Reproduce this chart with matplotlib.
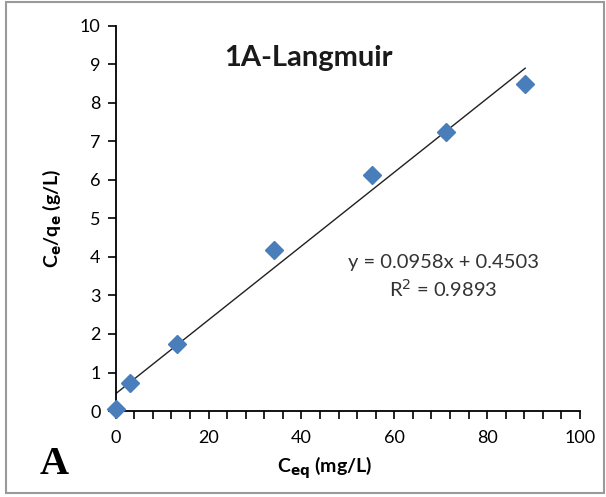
import matplotlib.pyplot as plt
from matplotlib.patches import Rectangle

# Langmuir linearisation data
c_eq = [0.0, 3.0, 13.2, 34.0, 55.1, 71.2, 88.2]
ce_qe = [0.04, 0.72, 1.75, 4.18, 6.12, 7.25, 8.48]

# fitted trendline
slope = 0.0958
intercept = 0.4503
r2 = 0.9893

x_ticks = list(range(0, 101, 20))
y_ticks = list(range(0, 11, 1))

plt.rcParams['font.family'] = ['Lato', 'DejaVu Sans']

fig1, ax1 = plt.subplots(figsize=(6.06, 4.97), dpi=100)
fig1.subplots_adjust(left=0.191, right=0.957, bottom=0.173, top=0.948)

for it1 in ['top', 'right']:
    ax1.spines[it1].set_visible(False)
for it1 in ['bottom', 'left']:
    ax1.spines[it1].set_linewidth(1.3)
    ax1.spines[it1].set_color('black')

ax1.axis([0, 100, 0, 10])
ax1.set_xticks(x_ticks)
ax1.set_xticks(list(range(0, 101, 4)), minor=True)
ax1.set_yticks(y_ticks)
ax1.tick_params(which='both', direction='out', length=6, width=1.2, labelsize=13, color='black')
ax1.tick_params(axis='x', pad=8)
ax1.tick_params(axis='y', pad=5)

# trendline drawn over the data range
x_fit = [min(c_eq), max(c_eq)]
y_fit = [slope * it1 + intercept for it1 in x_fit]
ax1.plot(x_fit, y_fit, color='#202020', lw=1.0, zorder=2)
ax1.plot(c_eq, ce_qe, 'D', color='#4A7EBB', ms=9.5, mec='#4A7EBB', zorder=3, clip_on=False)

ax1.set_title('1A-Langmuir', fontsize=21, fontweight='bold', x=0.415, y=0.875, color='#1a1a1a')
ax1.text(0.705, 0.385, 'y = %.4fx + %.4f' % (slope, intercept), transform=ax1.transAxes,
         ha='center', va='center', fontsize=14.5, color='#333333')
ax1.text(0.705, 0.318, 'R$^2$ = %.4f' % r2, transform=ax1.transAxes,
         ha='center', va='center', fontsize=14.5, color='#333333')

ax1.set_xlabel('C$_{\\mathbf{eq}}$ (mg/L)', fontsize=14, fontweight='bold', labelpad=6, x=0.45)
ax1.set_ylabel('C$_{\\mathbf{e}}$/q$_{\\mathbf{e}}$ (g/L)', fontsize=14, fontweight='bold', labelpad=12)

fig1.text(0.09, 0.065, 'A', fontsize=29, fontweight='bold', family='Liberation Serif',
          ha='center', va='center')

fig1.patches.append(Rectangle((0.01, 0.008), 0.987, 0.987, transform=fig1.transFigure,
                              fill=False, edgecolor='#9a9a9a', lw=1.5))

fig1.savefig('out.png', dpi=100)
